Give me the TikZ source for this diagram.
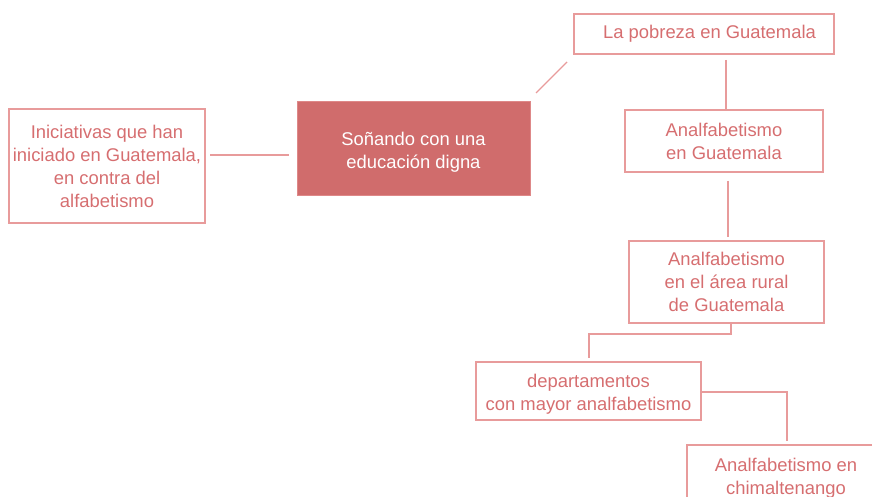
\documentclass[tikz,border=0pt]{standalone}
\usepackage{fontspec}
\setmainfont{Liberation Sans}
\definecolor{txtc}{RGB}{214,110,112}
\definecolor{linec}{RGB}{232,155,155}
\definecolor{fillc}{RGB}{208,108,108}
\begin{document}
\begin{tikzpicture}[x=1pt,y=-1pt,
  box/.style={draw=linec,line width=1.4pt,rectangle,inner sep=0pt,text=txtc,align=center,
    font=\fontsize{18.4}{23}\selectfont},
  mainbox/.style={fill=fillc,draw=linec!60!fillc,line width=0.8pt,rectangle,inner sep=0pt},
  txt/.style={text=txtc,align=center,inner sep=0pt,font=\fontsize{18.4}{23}\selectfont},
  conn/.style={draw=linec,line width=1.4pt}]
\useasboundingbox (0,0) rectangle (872,497);
\clip (0,0) rectangle (872,497);
\node[box,minimum width=196pt,minimum height=114pt] (ini) at (107,166)
  {Iniciativas que han\\iniciado en Guatemala,\\en contra del\\alfabetismo};
\node[mainbox,minimum width=233pt,minimum height=94pt] (son) at (413.5,148) {};
\node[txt,text=white] (sont) at (413.5,152) {Soñando con una\\educación digna};
\node[box,minimum width=260pt,minimum height=40pt] (pob) at (704,34) {};
\node[txt] (pobt) at (709.5,34) {La pobreza en Guatemala};
\node[box,minimum width=198pt,minimum height=62pt] (ag) at (724,141)
  {Analfabetismo\\en Guatemala};
\node[box,minimum width=195pt,minimum height=82pt] (rur) at (726.5,282)
  {Analfabetismo\\en el área rural\\de Guatemala};
\node[box,minimum width=225pt,minimum height=58pt] (dep) at (588.5,391) {};
\node[txt] (dept) at (588.5,394) {departamentos\\con mayor analfabetismo};
\node[box,minimum width=198pt,minimum height=70pt] (chi) at (786,480) {};
\node[txt] (chit) at (786,478) {Analfabetismo en\\chimaltenango};
% connectors
\coordinate (a1) at (210,155); \coordinate (a2) at (289,155);
\draw[conn] (a1) -- (a2);
\coordinate (b1) at (536,93); \coordinate (b2) at (567,62);
\draw[conn] (b1) -- (b2);
\coordinate (c1) at (726,60); \coordinate (c2) at (726,109);
\draw[conn] (c1) -- (c2);
\coordinate (d1) at (728,181); \coordinate (d2) at (728,237);
\draw[conn] (d1) -- (d2);
\coordinate (e1) at (731,323); \coordinate (e2) at (589,358);
\draw[conn] (e1) -- (731,334) -- (589,334) -- (e2);
\coordinate (f1) at (701,392); \coordinate (f2) at (787,441);
\draw[conn] (f1) -- (787,392) -- (f2);
\end{tikzpicture}
\end{document}
